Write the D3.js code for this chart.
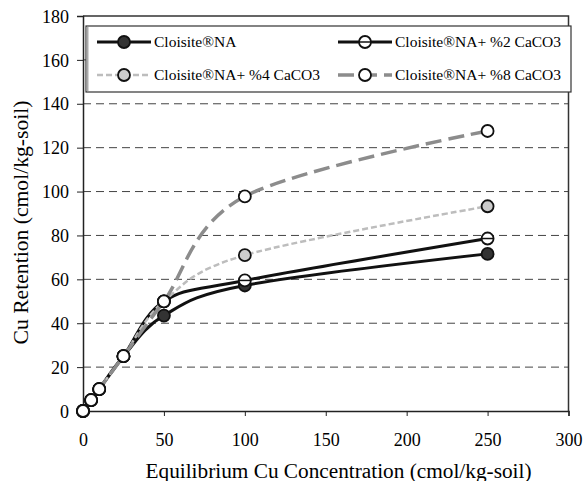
<!DOCTYPE html>
<html><head><meta charset="utf-8">
<script src="https://cdn.jsdelivr.net/npm/d3@7"></script>
<style>body{margin:0;background:#fff}svg{display:block}svg text{font-family:"Liberation Serif","Times New Roman","DejaVu Serif",serif !important;fill:#000}</style>
</head><body><svg id="c" width="583" height="481"></svg>
<script>
const xValues = [0, 5, 10, 25, 50, 100, 250];
const seriesNames = ["Cloisite®NA", "Cloisite®NA+ %2 CaCO3", "Cloisite®NA+ %4 CaCO3", "Cloisite®NA+ %8 CaCO3"];
const naValues  = [0, 5, 10, 25, 43.5, 57.2, 71.6];
const ca2Values = [0, 5, 10, 25, 50, 59.5, 78.6];
const ca4Values = [0, 5, 10, 25, 50, 71, 93.3];
const ca8Values = [0, 5, 10, 25, 50, 97.8, 127.6];
const xTicks = [0, 50, 100, 150, 200, 250, 300];
const yTicks = [0, 20, 40, 60, 80, 100, 120, 140, 160, 180];
const xTitle = "Equilibrium Cu Concentration (cmol/kg-soil)";
const yTitle = "Cu Retention (cmol/kg-soil)";

const FONT = '"Liberation Serif","Times New Roman","DejaVu Serif",serif';
const svg = d3.select("#c").attr("font-family", FONT);
const L = 83, R = 568.5, T = 16, B = 411;
const x = d3.scaleLinear().domain([0, 300]).range([L, R]);
const y = d3.scaleLinear().domain([0, 180]).range([B, T]);

// gridlines
svg.append("g").selectAll("line").data(yTicks.filter(d => d > 0 && d < 180)).join("line")
  .attr("x1", L).attr("x2", R).attr("y1", d => y(d)).attr("y2", d => y(d))
  .attr("stroke", "#444").attr("stroke-width", 1).attr("stroke-dasharray", "8,5");
// top & right border
svg.append("path").attr("d", `M${L},${T}H${R}V${B}`).attr("fill", "none").attr("stroke", "#333").attr("stroke-width", 1.5);

const xAxis = svg.append("g").attr("transform", `translate(0,${B})`)
  .call(d3.axisBottom(x).tickValues(xTicks).tickSize(5).tickPadding(17).tickFormat(d3.format("d")));
const yAxis = svg.append("g").attr("transform", `translate(${L},0)`)
  .call(d3.axisLeft(y).tickValues(yTicks).tickSize(6).tickPadding(8).tickFormat(d3.format("d")));
[xAxis, yAxis].forEach(a => {
  a.attr("font-family", FONT).attr("font-size", 18);
  a.select(".domain").attr("stroke", "#222").attr("stroke-width", 1.5);
  a.selectAll(".tick line").attr("stroke", "#222");
  a.selectAll("text").attr("fill", "#000");
});
yAxis.selectAll("text").attr("dy", "0.34em");

svg.append("text").attr("x", 338.5).attr("y", 478).attr("text-anchor", "middle").attr("font-size", 20)
  .attr("textLength", 386).attr("lengthAdjust", "spacingAndGlyphs").text(xTitle);
svg.append("text").attr("transform", `translate(28,222.5) rotate(-90)`).attr("text-anchor", "middle").attr("font-size", 20)
  .attr("textLength", 244).attr("lengthAdjust", "spacingAndGlyphs").text(yTitle);

const styles = [
  {vals: naValues,  stroke: "#111", w: 3,   dash: null,   fill: "#333", bar: false},
  {vals: ca2Values, stroke: "#111", w: 3,   dash: null,   fill: "#fff", bar: true},
  {vals: ca4Values, stroke: "#bdbdbd", w: 2.5, dash: "6,3", fill: "#ccc", bar: false},
  {vals: ca8Values, stroke: "#8c8c8c", w: 3.5, dash: "16,7", fill: "#fff", bar: false}
];
const line = d3.line().x(d => x(d[0])).y(d => y(d[1])).curve(d3.curveCardinal.tension(0));
styles.forEach(s => {
  svg.append("path").datum(xValues.map((v, i) => [v, s.vals[i]]))
    .attr("d", line).attr("fill", "none").attr("stroke", s.stroke).attr("stroke-width", s.w)
    .attr("stroke-dasharray", s.dash);
});
function marker(g, cx, cy, s) {
  g.append("circle").attr("cx", cx).attr("cy", cy).attr("r", 6).attr("fill", s.fill).attr("stroke", "#111").attr("stroke-width", 1.8);
  if (s.bar) g.append("line").attr("x1", cx - 6).attr("x2", cx + 6).attr("y1", cy).attr("y2", cy).attr("stroke", "#111").attr("stroke-width", 1.5);
}
styles.forEach(s => {
  const g = svg.append("g");
  xValues.forEach((v, i) => marker(g, x(v), y(s.vals[i]), s));
});

// legend
const lg = svg.append("g");
lg.append("rect").attr("x", 86).attr("y", 26).attr("width", 485).attr("height", 66).attr("fill", "#fff").attr("stroke", "#333").attr("stroke-width", 1.2);
lg.append("line").attr("x1", 87.5).attr("x2", 87.5).attr("y1", 27).attr("y2", 91).attr("stroke", "#aaa").attr("stroke-width", 2);
const pos = [[97, 42], [338, 42], [97, 75], [338, 75]];
styles.forEach((s, i) => {
  const [lx, ly] = pos[i];
  lg.append("line").attr("x1", lx).attr("x2", lx + 54).attr("y1", ly).attr("y2", ly)
    .attr("stroke", s.stroke).attr("stroke-width", s.w).attr("stroke-dasharray", s.dash);
  marker(lg, lx + 27, ly, s);
  lg.append("text").attr("x", lx + 57).attr("y", ly).attr("dy", "0.35em").attr("font-size", 15.5).text(seriesNames[i]);
});
</script></body></html>
